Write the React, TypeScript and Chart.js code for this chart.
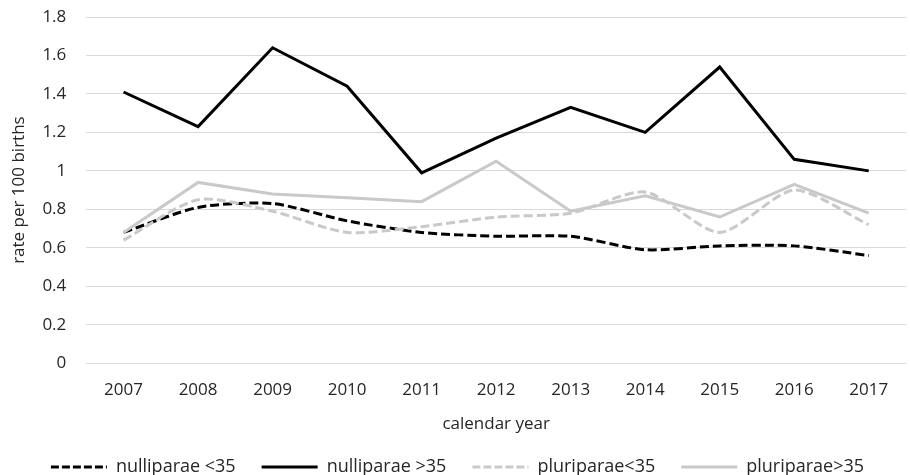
import React, { useEffect, useRef } from "react";
import { Chart, registerables } from "chart.js";

Chart.register(...registerables);

const years = ["2007", "2008", "2009", "2010", "2011", "2012", "2013", "2014", "2015", "2016", "2017"];
const nulliUnder35 = [0.68, 0.81, 0.83, 0.74, 0.68, 0.66, 0.66, 0.59, 0.61, 0.61, 0.56];
const nulliOver35 = [1.41, 1.23, 1.64, 1.44, 0.99, 1.17, 1.33, 1.20, 1.54, 1.06, 1.00];
const pluriUnder35 = [0.64, 0.85, 0.79, 0.68, 0.71, 0.76, 0.78, 0.89, 0.68, 0.90, 0.72];
const pluriOver35 = [0.68, 0.94, 0.88, 0.86, 0.84, 1.05, 0.79, 0.87, 0.76, 0.93, 0.78];
const seriesLabels = ["nulliparae <35", "nulliparae >35", "pluriparae<35", "pluriparae>35"];
const yTitle = "rate per 100 births";
const xTitle = "calendar year";

const FONT = "'Open Sans', Lato, sans-serif";
const FS = 17;
const TEXT = "#262626";
const GRAY = "#c9c9c9";

export default function App() {
  const ref = useRef<HTMLCanvasElement>(null);
  useEffect(() => {
    if (!ref.current) return;
    const chart = new Chart(ref.current, {
      type: "line",
      data: {
        labels: years,
        datasets: [
          { label: seriesLabels[0], data: nulliUnder35, borderColor: "#000", backgroundColor: "#000", borderWidth: 3, borderDash: [9, 4], tension: 0.25, pointRadius: 0, order: 3 },
          { label: seriesLabels[1], data: nulliOver35, borderColor: "#000", backgroundColor: "#000", borderWidth: 3, tension: 0, pointRadius: 0, order: 2 },
          { label: seriesLabels[2], data: pluriUnder35, borderColor: GRAY, backgroundColor: GRAY, borderWidth: 3, borderDash: [9, 4], tension: 0.25, pointRadius: 0, order: 1 },
          { label: seriesLabels[3], data: pluriOver35, borderColor: GRAY, backgroundColor: GRAY, borderWidth: 3, tension: 0, pointRadius: 0, order: 0 },
        ],
      },
      options: {
        responsive: false,
        animation: false,
        layout: { padding: { top: 17, right: 4, left: 9, bottom: -11 } },
        plugins: {
          tooltip: { enabled: false },
          legend: {
            position: "bottom",
            labels: {
              usePointStyle: true,
              pointStyle: "line",
              pointStyleWidth: 56,
              boxHeight: 18,
              padding: 26,
              color: TEXT,
              font: { family: FONT, size: 18 },
              sort: (a: any, b: any) => a.datasetIndex - b.datasetIndex,
              generateLabels: (c: any) => {
                const items = (Chart.defaults.plugins.legend.labels as any).generateLabels(c);
                items.forEach((it: any) => {
                  const ds: any = c.data.datasets[it.datasetIndex];
                  it.lineDash = ds.borderDash ? [8, 3] : [];
                  it.lineWidth = 3;
                  it.strokeStyle = ds.borderColor;
                  it.fillStyle = ds.borderColor;
                });
                return items;
              },
            },
          },
        },
        scales: {
          x: {
            offset: true,
            grid: { display: false, drawTicks: false },
            border: { display: false },
            ticks: { color: TEXT, font: { family: FONT, size: FS }, padding: 17, maxRotation: 0 },
            title: { display: true, text: xTitle, color: TEXT, font: { family: FONT, size: FS }, padding: { top: -4, bottom: -2 } },
          },
          y: {
            min: 0,
            max: 1.8,
            grid: { color: "#d9d9d9", lineWidth: 1, drawTicks: true, tickLength: 17, tickColor: "rgba(0,0,0,0)" },
            border: { display: false },
            ticks: { stepSize: 0.2, color: TEXT, font: { family: FONT, size: FS }, padding: 3, callback: (v: any) => String(Math.round(Number(v) * 10) / 10) },
            title: { display: true, text: yTitle, color: TEXT, font: { family: FONT, size: FS }, padding: { top: 0, bottom: 10 } },
          },
        },
      },
    });
    return () => chart.destroy();
  }, []);
  return (
    <div style={{ position: "absolute", left: 0, top: 0, width: 910, height: 475, background: "#fff" }}>
      <canvas ref={ref} width={910} height={475} style={{ display: "block" }} />
    </div>
  );
}
